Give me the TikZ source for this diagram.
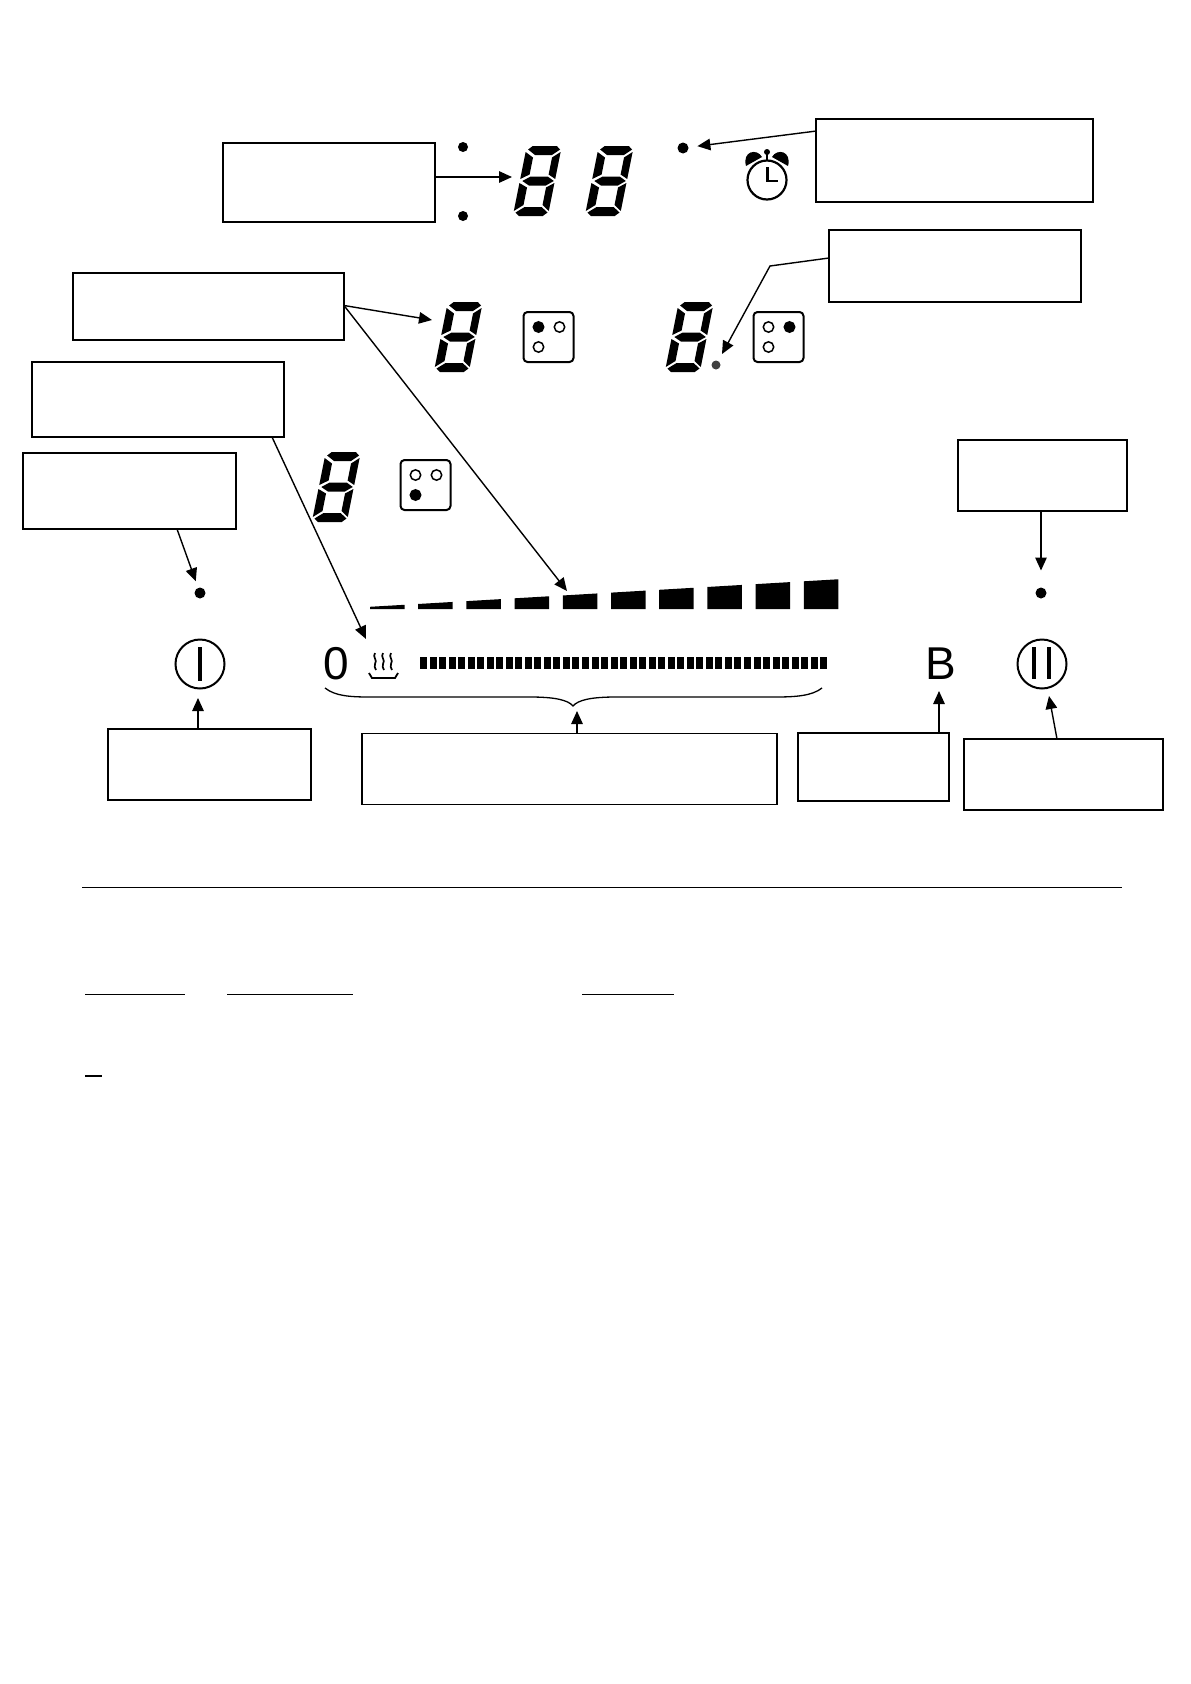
\documentclass[tikz,border=0pt]{standalone}
\usepackage{fontspec}
\setmainfont{Liberation Sans}
\usepackage{tikz}
\usetikzlibrary{arrows.meta, calc}

\tikzset{
    callout/.style={draw, line width=1.1pt, inner sep=0pt, outer sep=0pt, fill=white},
    leader/.style={line width=1.4pt, -{Triangle[length=13pt,width=11.5pt]}},
    led/.style={circle, fill=black, inner sep=0pt, outer sep=0pt, minimum size=11pt},
    ring/.style={draw, circle, line width=2pt, inner sep=0pt, outer sep=0pt, minimum size=49pt},
    bigsign/.style={font=\fontsize{46}{46}\selectfont, inner sep=0pt},
    digit/.pic={
        \fill[xslant=0.2] (5,-69) -- (29,-69) -- (33,-65.5) -- (26,-60) -- (9,-60) -- (1,-65.5) -- cycle;
        \fill[xslant=0.2] (5,1) -- (29,1) -- (33,-2.5) -- (26,-8) -- (9,-8) -- (1,-2.5) -- cycle;
        \fill[xslant=0.2] (1.5,-34) -- (9,-38.5) -- (26,-38.5) -- (33,-34) -- (26,-29.5) -- (9,-29.5) -- cycle;
        \foreach \xa/\xb in {-1/7.5,34/26.5} {
            \fill[xslant=0.2] (\xa,-63) -- (\xb,-57.5) -- (\xb,-40.5) -- (\xa,-36) -- cycle;
            \fill[xslant=0.2] (\xa,-32) -- (\xb,-27.5) -- (\xb,-10) -- (\xa,-4) -- cycle;
        }
    }
}

\begin{document}
\begin{tikzpicture}[x=1pt,y=-1pt]
\useasboundingbox (0,0) rectangle (1191,1684);

% Callout boxes
\node[callout, minimum width=212pt, minimum height=79pt] (timerbox) at (329,182.5) {};
\node[callout, minimum width=277pt, minimum height=83pt] (alarmbox) at (954.5,160.5) {};
\node[callout, minimum width=252pt, minimum height=72pt] (pointbox) at (955,266) {};
\node[callout, minimum width=271pt, minimum height=67pt] (zonebox) at (208.5,306.5) {};
\node[callout, minimum width=252pt, minimum height=75pt] (heatbox) at (158,399.5) {};
\node[callout, minimum width=213pt, minimum height=76pt] (onledbox) at (129.5,491) {};
\node[callout, minimum width=169pt, minimum height=71pt] (lockbox) at (1042.5,475.5) {};
\node[callout, minimum width=203pt, minimum height=71pt] (onbox) at (209.5,764.5) {};
\node[callout, minimum width=415pt, minimum height=71pt] (sliderbox) at (569.5,769) {};
\node[callout, minimum width=151pt, minimum height=68pt] (boostbox) at (873.5,767) {};
\node[callout, minimum width=199pt, minimum height=71pt] (pausebox) at (1063.5,774.5) {};

% Digits
\foreach \x/\y in {514/215, 586/215, 435/371, 666/371, 313/521} {
    \pic at (\x,\y) {digit};
}

% Indicator dots
\node[led, minimum size=10pt] (coltop) at (463,147) {};
\node[led, minimum size=10pt] (colbot) at (463,216) {};
\node[led] (alarmled) at (683,148) {};
\node[led, fill=black!75, minimum size=9pt] (pointled) at (716,365) {};
\node[led] (onled) at (200,593) {};
\node[led] (lockled) at (1041,593) {};

% Zone icons
\foreach \x/\y/\fa/\fb/\fc in {523.5/312/black/white/white, 753.5/312/white/black/white, 400.5/460/white/white/black} {
    \draw[line width=2pt, rounded corners=4pt] (\x,\y) rectangle ++(50,50);
    \draw[line width=1.5pt, fill=\fa] (\x+15,\y+15) circle (5.2);
    \draw[line width=1.5pt, fill=\fb] (\x+36,\y+15) circle (5.2);
    \draw[line width=1.5pt, fill=\fc] (\x+15,\y+35) circle (5.2);
}

% Alarm clock
\draw[line width=2.2pt] (767,180) circle (19.5);
\draw[line width=2pt] (767,152) -- (767,160);
\fill (767,152) circle (3);
\draw[line width=2.8pt] (767.5,167) -- (767.5,181) -- (778,181);
\fill (746,166) .. controls (742,151) and (757,148) .. (762,157) -- cycle;
\fill (788,166) .. controls (792,151) and (777,148) .. (772,157) -- cycle;

% Wedge bar
\foreach \i in {0,...,9} {
    \pgfmathsetmacro{\xl}{370+48.2*\i}
    \pgfmathsetmacro{\xr}{\xl+34.5}
    \pgfmathsetmacro{\tl}{606.8-0.0588*(\xl-370)}
    \pgfmathsetmacro{\tr}{606.8-0.0588*(\xr-370)}
    \fill (\xl,609) -- (\xl,\tl) -- (\xr,\tr) -- (\xr,609) -- cycle;
}

% Slider
\foreach \i in {0,...,42} {
    \fill ({420+9.53*\i},657) rectangle ++(7,12);
}
\node[bigsign] (zero) at (336,664) {0};
\node[bigsign] (boost) at (941,664) {B};
\draw[line width=1.3pt] (325,688) .. controls (335,696) and (350,697) .. (370,697) -- (530,697)
    .. controls (555,697) and (568,700) .. (573,706) .. controls (578,700) and (591,697) .. (616,697)
    -- (775,697) .. controls (795,697) and (812,696) .. (822,688);
\coordinate (bracetip) at (577,711);

% Steam
\foreach \x in {375,383,391} {
    \draw[line width=1.7pt] (\x,653) .. controls (\x-3,657) and (\x+3,660) .. (\x,664) .. controls (\x-1,666) and (\x,668) .. (\x+1,670);
}
\draw[line width=1.8pt] (369,673) -- (372,678) -- (395,678) -- (398,673);

% Buttons
\node[ring] (onring) at (200,664) {};
\draw[line width=3.4pt] (onring.center) ++(0,-17) -- ++(0,34);
\node[ring] (pausering) at (1042,664) {};
\draw[line width=3.4pt] (1034,647) -- (1034,679);
\draw[line width=3.4pt] (1049,647) -- (1049,679);

% Free ends
\coordinate (timertip) at (512,177);
\coordinate (zonetip) at (432,320);
\coordinate (wedgetip) at (567,591);
\coordinate (steamtip) at (366,639);
\coordinate (onringtip) at (198,698);
\coordinate (boosttip) at (939,691);
\coordinate (pausetip) at (1049,696);
\coordinate (bend) at (770,266);

% Leaders
\draw[leader] (timerbox.east |- timertip) -- (timertip);
\draw[leader, shorten >=9pt] (alarmbox.168) -- (alarmled);
\draw[leader, shorten >=8pt] (pointbox.west |- 829,258) -- (bend) -- (pointled);
\draw[leader] (zonebox.east) ++(0,-1) -- (zonetip);
\draw[leader] (zonebox.east) ++(0,-1) -- (wedgetip);
\draw[leader] (272,437) -- (steamtip);
\draw[leader, shorten >=7pt] (177,529) -- (onled);
\draw[leader, shorten >=17pt] (lockbox.south -| lockled) -- (lockled);
\draw[leader] (onbox.north -| onringtip) -- (onringtip);
\draw[leader] (sliderbox.north -| bracetip) -- (bracetip);
\draw[leader] (boostbox.north -| boosttip) -- (boosttip);
\draw[leader] (1057,739) -- (pausetip);

% Rule and underlines
\draw[line width=1pt] (82,887) -- (1122,887);
\foreach \xa/\xb in {85/185, 227/353, 582/674} {
    \draw[line width=1.2pt] (\xa,994.5) -- (\xb,994.5);
}
\draw[line width=2pt] (85,1076) -- (102,1076);
\end{tikzpicture}
\end{document}
